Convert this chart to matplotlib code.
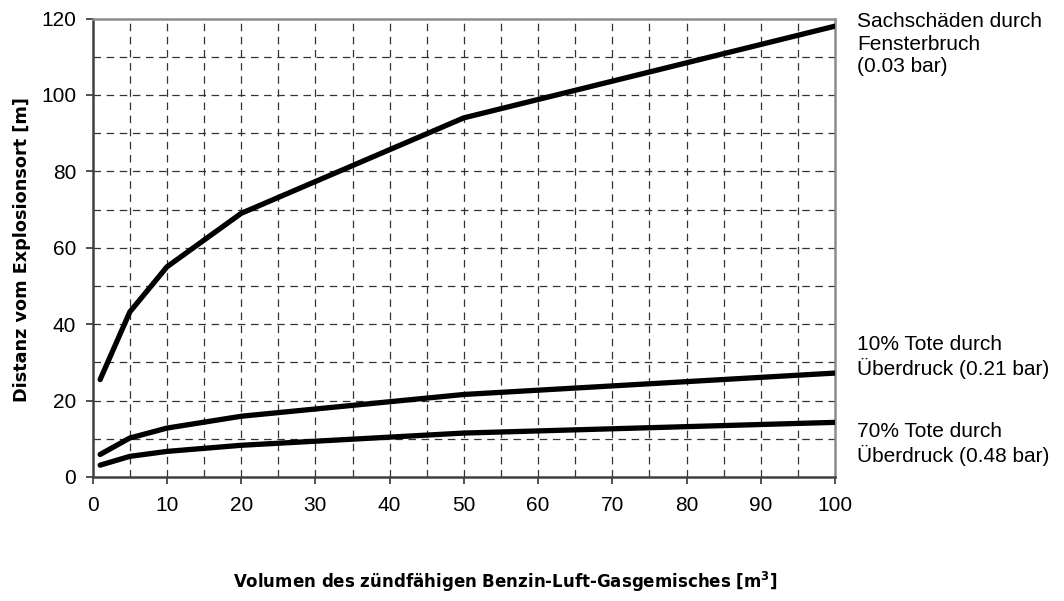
import matplotlib
matplotlib.use("Agg")
import matplotlib.pyplot as plt
from matplotlib.ticker import MultipleLocator

# Data
volume = [1, 5, 10, 20, 50, 100]
dist_window = [25.5, 43.2, 55.0, 69.0, 94.0, 118.0]
dist_10pct = [5.9, 10.2, 12.8, 15.9, 21.6, 27.2]
dist_70pct = [3.1, 5.4, 6.7, 8.3, 11.5, 14.3]
labels = ["Sachschäden durch\nFensterbruch\n(0.03 bar)",
          "10% Tote durch\nÜberdruck (0.21 bar)",
          "70% Tote durch\nÜberdruck (0.48 bar)"]
xlabel = "Volumen des zündfähigen Benzin-Luft-Gasgemisches [m$^{\\mathregular{3}}$]"
ylabel = "Distanz vom Explosionsort [m]"

W, H = 1064, 601
fig = plt.figure(figsize=(W / 100, H / 100), dpi=100)
ax = fig.add_axes([92.7 / W, 1 - 477 / H, (835 - 92.7) / W, (477 - 18.5) / H])

for ys in (dist_window, dist_10pct, dist_70pct):
    ax.plot(volume, ys, color="black", lw=3.8, solid_capstyle="round",
            solid_joinstyle="miter", zorder=3)

ax.set_xlim(0, 100)
ax.set_ylim(0, 120)
ax.xaxis.set_major_locator(MultipleLocator(10))
ax.xaxis.set_minor_locator(MultipleLocator(5))
ax.yaxis.set_major_locator(MultipleLocator(20))
ax.yaxis.set_minor_locator(MultipleLocator(10))

ax.grid(False)
for v in range(5, 100, 5):
    ax.axvline(v, color="#333333", lw=0.9, dashes=(6, 4.5), zorder=1)
for v in range(10, 120, 10):
    ax.axhline(v, color="#333333", lw=0.9, dashes=(6, 4.5), zorder=1)

ax.tick_params(which="major", direction="out", length=5, width=1.2,
               color="#333333", labelsize=15, pad=7)
ax.tick_params(which="minor", length=0)
ax.tick_params(axis="x", pad=9)
for lab in ax.get_xticklabels() + ax.get_yticklabels():
    lab.set_fontfamily("Liberation Sans")

for side in ("left", "bottom"):
    ax.spines[side].set_color("#404040")
    ax.spines[side].set_linewidth(1.8)
for side in ("top", "right"):
    ax.spines[side].set_color("#8c8c8c")
    ax.spines[side].set_linewidth(1.8)

# Right side labels
fig.text(857 / W, 1 - 44 / H, labels[0], ha="left", va="center",
         fontsize=15, family="Liberation Sans", linespacing=1.25)
fig.text(857 / W, 1 - 357 / H, labels[1], ha="left", va="center",
         fontsize=15, family="Liberation Sans", linespacing=1.25)
fig.text(857 / W, 1 - 444 / H, labels[2], ha="left", va="center",
         fontsize=15, family="Liberation Sans", linespacing=1.25)

fig.text(505 / W, 1 - 582 / H, xlabel, ha="center", va="center",
         fontsize=12, fontweight="bold", family="DejaVu Sans")
fig.text(22 / W, 1 - 250 / H, ylabel, ha="center", va="center", rotation=90,
         fontsize=12.7, fontweight="bold", family="DejaVu Sans")

fig.savefig("out.png", dpi=100)
